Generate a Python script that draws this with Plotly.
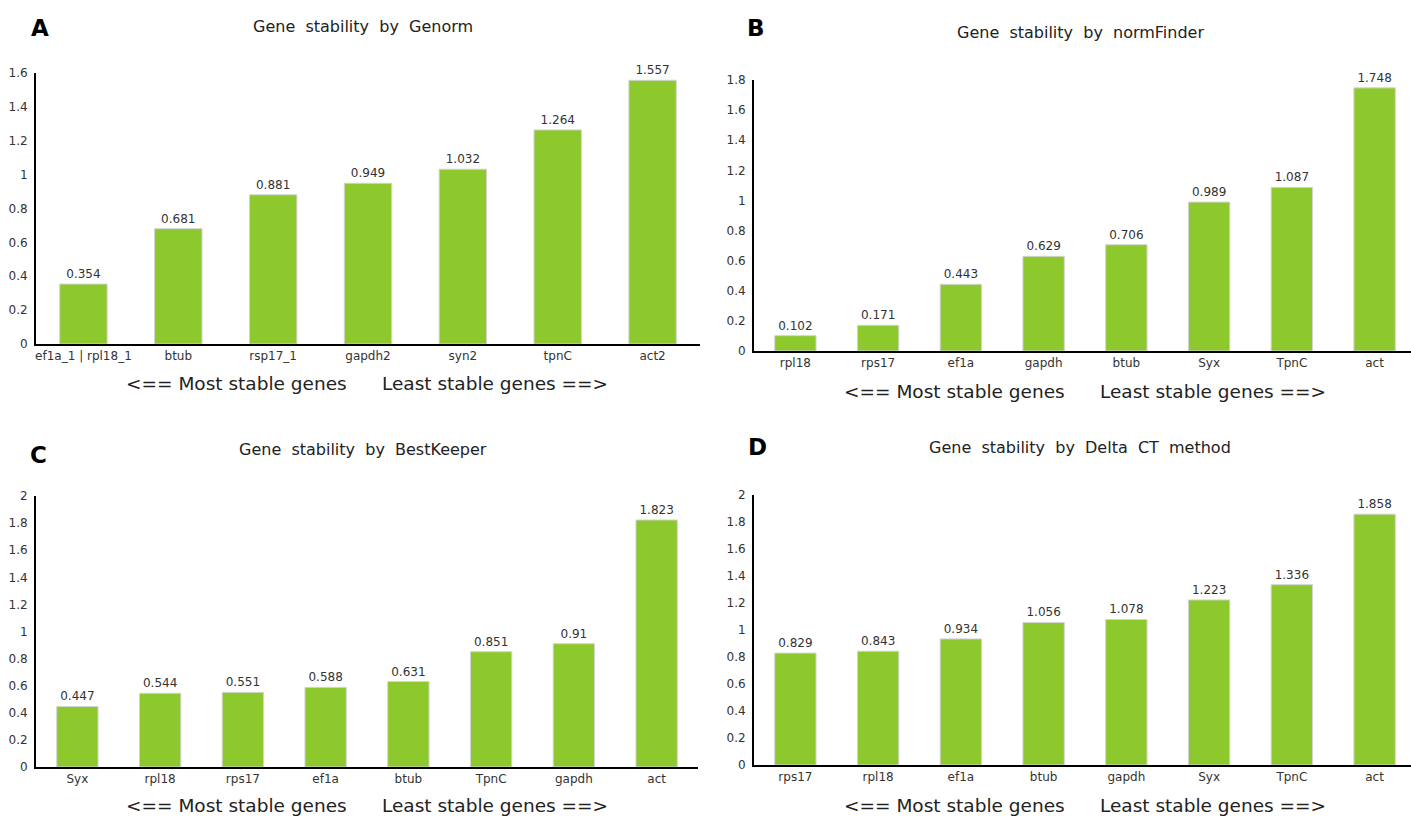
import plotly.graph_objects as go

# ---- data ----
genorm_genes = ["ef1a_1 | rpl18_1", "btub", "rsp17_1", "gapdh2", "syn2", "tpnC", "act2"]
genorm_vals = [0.354, 0.681, 0.881, 0.949, 1.032, 1.264, 1.557]

normfinder_genes = ["rpl18", "rps17", "ef1a", "gapdh", "btub", "Syx", "TpnC", "act"]
normfinder_vals = [0.102, 0.171, 0.443, 0.629, 0.706, 0.989, 1.087, 1.748]

bestkeeper_genes = ["Syx", "rpl18", "rps17", "ef1a", "btub", "TpnC", "gapdh", "act"]
bestkeeper_vals = [0.447, 0.544, 0.551, 0.588, 0.631, 0.851, 0.91, 1.823]

deltact_genes = ["rps17", "rpl18", "ef1a", "btub", "gapdh", "Syx", "TpnC", "act"]
deltact_vals = [0.829, 0.843, 0.934, 1.056, 1.078, 1.223, 1.336, 1.858]

titles = ["Gene stability by Genorm", "Gene stability by normFinder",
          "Gene stability by BestKeeper", "Gene stability by Delta CT method"]
letters = ["A", "B", "C", "D"]

W, H = 1411, 816
FONT = "DejaVu Sans"
BAR = "#8dc92c"

panels = [
    dict(genes=genorm_genes, vals=genorm_vals, x=(36, 700), y0=344, ytop=73, ymax=1.6, xr=(-0.5, 6.5),
         title=(363, 27), letter=(40, 28), xlab=(367, 383)),
    dict(genes=normfinder_genes, vals=normfinder_vals, x=(754, 1411), y0=351, ytop=80, ymax=1.8, xr=(-0.5, 7.44),
         title=(1080, 33), letter=(756, 28), xlab=(1085, 391)),
    dict(genes=bestkeeper_genes, vals=bestkeeper_vals, x=(36, 698), y0=767, ytop=496, ymax=2.0, xr=(-0.5, 7.5),
         title=(363, 449), letter=(38, 455), xlab=(367, 805)),
    dict(genes=deltact_genes, vals=deltact_vals, x=(754, 1411), y0=765, ytop=495, ymax=2.0, xr=(-0.5, 7.44),
         title=(1080, 447), letter=(757, 447), xlab=(1085, 805)),
]

fig = go.Figure()
annotations = []
xlab_text = "<==\u00a0Most\u00a0stable\u00a0genes" + "\u00a0" * 6 + "Least\u00a0stable\u00a0genes\u00a0==>"

for i, p in enumerate(panels):
    n = "" if i == 0 else str(i + 1)
    fig.add_trace(go.Bar(
        x=list(range(len(p["genes"]))), y=p["vals"], width=0.5,
        marker=dict(color=BAR, line=dict(color="#d4d4d4", width=1)),
        text=[f"{v:g}" for v in p["vals"]], textposition="outside",
        textfont=dict(family=FONT, size=12, color="#333"),
        cliponaxis=False, showlegend=False,
        xaxis="x" + n, yaxis="y" + n,
    ))
    fig.update_layout({
        "xaxis" + n: dict(
            domain=[p["x"][0] / W, p["x"][1] / W], range=list(p["xr"]), automargin=False,
            anchor="y" + n, tickmode="array", tickvals=list(range(len(p["genes"]))),
            ticktext=p["genes"], showline=True, linecolor="black", linewidth=2,
            showgrid=False, zeroline=False, ticks="",
            tickfont=dict(family=FONT, size=12, color="#333"),
        ),
        "yaxis" + n: dict(
            domain=[1 - p["y0"] / H, 1 - p["ytop"] / H], range=[0, p["ymax"]], automargin=False,
            anchor="x" + n, dtick=0.2, tick0=0, showline=True, linecolor="black", linewidth=2,
            showgrid=False, zeroline=False, ticks="", ticklabelstandoff=4,
            tickfont=dict(family=FONT, size=12, color="#333"),
        ),
    })
    annotations.append(dict(x=p["title"][0] / W, y=1 - p["title"][1] / H, xref="paper", yref="paper",
                            text=titles[i].replace(" ", "\u00a0\u00a0"), showarrow=False,
                            xanchor="center", yanchor="middle",
                            font=dict(family=FONT, size=16, color="#222")))
    annotations.append(dict(x=p["letter"][0] / W, y=1 - p["letter"][1] / H, xref="paper", yref="paper",
                            text="<b>" + letters[i] + "</b>", showarrow=False, xanchor="center", yanchor="middle",
                            font=dict(family=FONT, size=23, color="black")))
    annotations.append(dict(x=p["xlab"][0] / W, y=1 - p["xlab"][1] / H, xref="paper", yref="paper",
                            text=xlab_text, showarrow=False, xanchor="center", yanchor="middle",
                            font=dict(family=FONT, size=18.5, color="#222")))

fig.update_layout(width=W, height=H, margin=dict(l=0, r=0, t=0, b=0, autoexpand=False),
                  paper_bgcolor="white", plot_bgcolor="white",
                  annotations=annotations, bargap=0.5)
fig.write_html("out.html")
